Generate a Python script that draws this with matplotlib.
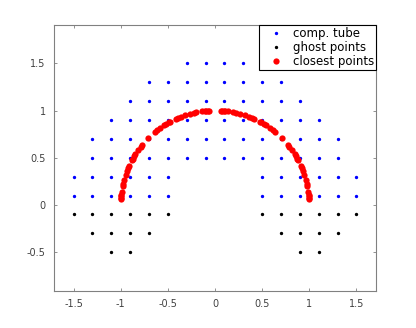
import numpy as np
import matplotlib
matplotlib.use("Agg")
import matplotlib.pyplot as plt

# computational tube (blue): x positions for each grid row y
tube_rows_y = [1.5, 1.3, 1.1, 0.9, 0.7, 0.5, 0.3, 0.1]
tube_rows_x = [
    [-0.3, -0.1, 0.1, 0.3],
    [-0.7, -0.5, -0.3, -0.1, 0.1, 0.3, 0.5, 0.7],
    [-0.9, -0.7, -0.5, -0.3, -0.1, 0.1, 0.3, 0.5, 0.7, 0.9],
    [-1.1, -0.9, -0.7, -0.5, -0.3, -0.1, 0.1, 0.3, 0.5, 0.7, 0.9, 1.1],
    [-1.3, -1.1, -0.9, -0.7, -0.5, -0.3, -0.1, 0.1, 0.3, 0.5, 0.7, 0.9, 1.1, 1.3],
    [-1.3, -1.1, -0.9, -0.7, -0.5, -0.3, -0.1, 0.1, 0.3, 0.5, 0.7, 0.9, 1.1, 1.3],
    [-1.5, -1.3, -1.1, -0.9, -0.7, -0.5, 0.5, 0.7, 0.9, 1.1, 1.3, 1.5],
    [-1.5, -1.3, -1.1, -0.9, -0.7, -0.5, 0.5, 0.7, 0.9, 1.1, 1.3, 1.5],
]

# ghost points (black)
ghost_rows_y = [-0.1, -0.3, -0.5]
ghost_rows_x = [
    [-1.5, -1.3, -1.1, -0.9, -0.7, -0.5, 0.5, 0.7, 0.9, 1.1, 1.3, 1.5],
    [-1.3, -1.1, -0.9, -0.7, 0.7, 0.9, 1.1, 1.3],
    [-1.1, -0.9, 0.9, 1.1],
]

# closest points on the unit semicircle (red), angle in degrees
closest_deg = [
    3.81, 4.40, 5.19, 6.34, 8.13, 11.31, 13.00, 15.26, 18.43, 21.04,
    23.20, 24.44, 28.30, 29.05, 30.96, 32.47, 35.54, 37.87, 39.29, 45.0,
    50.71, 52.13, 54.46, 57.53, 59.04, 60.95, 61.70, 65.56, 66.80, 68.96,
    71.57, 74.74, 77.00, 78.69, 81.87, 83.66, 84.81, 85.60, 86.19,
    93.81, 94.40, 95.19, 96.34, 98.13, 101.31, 103.00, 105.26, 108.43, 111.04,
    113.20, 114.44, 118.30, 119.05, 120.96, 122.47, 125.54, 127.87, 129.29, 135.0,
    140.71, 142.13, 144.46, 147.53, 149.04, 150.95, 151.70, 155.56, 156.80, 158.96,
    161.57, 164.74, 167.00, 168.69, 171.87, 173.66, 174.81, 175.60, 176.19,
]

xticks = [-1.5, -1, -0.5, 0, 0.5, 1, 1.5]
yticks = [-0.5, 0, 0.5, 1, 1.5]

tx = [x for xs, y in zip(tube_rows_x, tube_rows_y) for x in xs]
ty = [y for xs, y in zip(tube_rows_x, tube_rows_y) for x in xs]
gx = [x for xs, y in zip(ghost_rows_x, ghost_rows_y) for x in xs]
gy = [y for xs, y in zip(ghost_rows_x, ghost_rows_y) for x in xs]
th = np.radians(closest_deg)

fig = plt.figure(figsize=(4.16, 3.28), dpi=100)
ax = fig.add_axes([0.1298, 0.1128, 0.774, 0.811])

ax.plot(tx, ty, ".", color="blue", markersize=2.8, label="comp. tube")
ax.plot(gx, gy, ".", color="black", markersize=2.8, label="ghost points")
ax.plot(np.cos(th), np.sin(th), "o", color="red", markersize=4.5,
        markeredgewidth=0, label="closest points")

ax.set_xlim(-1.707, 1.707)
ax.set_ylim(-0.91, 1.905)
ax.set_xticks(xticks)
ax.set_xticklabels(["-1.5", "-1", "-0.5", "0", "0.5", "1", "1.5"])
ax.set_yticks(yticks)
ax.set_yticklabels(["-0.5", "0", "0.5", "1", "1.5"])

grey = "#808080"
for s in ax.spines.values():
    s.set_color(grey)
    s.set_linewidth(0.8)
ax.tick_params(direction="in", length=2.5, width=0.6, color=grey,
               labelcolor="#404040", labelsize=7, top=True, right=True, pad=6)

leg = ax.legend(loc="upper right", borderaxespad=0, fancybox=False,
                edgecolor="black", framealpha=1, fontsize=8.5,
                handlelength=2.6, handletextpad=0.1, labelspacing=0.1,
                borderpad=0.15, markerscale=1.0)
leg.get_frame().set_linewidth(0.8)

fig.savefig("out.png", dpi=100)
